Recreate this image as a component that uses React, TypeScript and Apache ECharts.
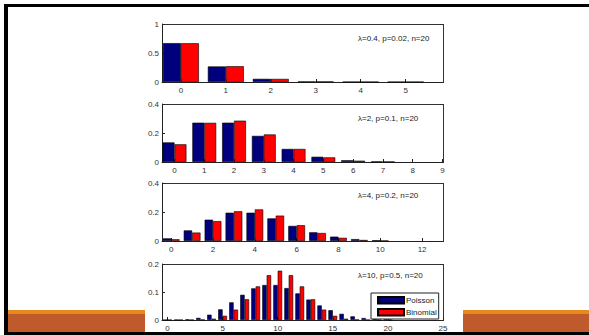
import React, { useEffect, useRef } from "react";
import * as echarts from "echarts";

// Panel 1: lambda=0.4, p=0.02, n=20
const k1 = [0, 1, 2, 3, 4, 5];
const poisson1 = [0.67, 0.268, 0.054, 0.007, 0.0007, 0.00006];
const binomial1 = [0.668, 0.272, 0.053, 0.0065, 0.0006, 0.00005];
const xTicks1 = [0, 1, 2, 3, 4, 5];
const yTicks1 = [0, 0.5, 1];

// Panel 2: lambda=2, p=0.1, n=20
const k2 = [0, 1, 2, 3, 4, 5, 6, 7];
const poisson2 = [0.135, 0.271, 0.271, 0.18, 0.09, 0.036, 0.012, 0.0034];
const binomial2 = [0.122, 0.27, 0.285, 0.19, 0.09, 0.032, 0.009, 0.002];
const xTicks2 = [0, 1, 2, 3, 4, 5, 6, 7, 8, 9];
const yTicks2 = [0, 0.2, 0.4];

// Panel 3: lambda=4, p=0.2, n=20
const k3 = [0, 1, 2, 3, 4, 5, 6, 7, 8, 9, 10];
const poisson3 = [0.018, 0.073, 0.147, 0.195, 0.195, 0.156, 0.104, 0.06, 0.03, 0.013, 0.005];
const binomial3 = [0.012, 0.058, 0.137, 0.205, 0.218, 0.175, 0.109, 0.055, 0.022, 0.007, 0.002];
const xTicks3 = [0, 2, 4, 6, 8, 10, 12];
const yTicks3 = [0, 0.2, 0.4];

// Panel 4: lambda=10, p=0.5, n=20
const k4 = [0, 1, 2, 3, 4, 5, 6, 7, 8, 9, 10, 11, 12, 13, 14, 15, 16, 17, 18, 19, 20];
const poisson4 = [0.00005, 0.0005, 0.0023, 0.0076, 0.019, 0.038, 0.063, 0.09, 0.113, 0.125, 0.125, 0.114, 0.095, 0.073, 0.052, 0.035, 0.022, 0.013, 0.007, 0.0037, 0.0019];
const binomial4 = [0.000001, 0.00002, 0.0002, 0.0011, 0.0046, 0.015, 0.037, 0.074, 0.12, 0.16, 0.176, 0.16, 0.12, 0.074, 0.037, 0.015, 0.0046, 0.0011, 0.0002, 0.00002, 0.000001];
const xTicks4 = [0, 5, 10, 15, 20, 25];
const yTicks4 = [0, 0.1, 0.2];

const annotations = [
  "λ=0.4, p=0.02, n=20",
  "λ=2, p=0.1, n=20",
  "λ=4, p=0.2, n=20",
  "λ=10, p=0.5, n=20",
];
const legendNames = ["Poisson", "Binomial"];

const BLUE = "#00007f";
const RED = "#ff0000";
const FONT = "Liberation Sans, Arial, sans-serif";

const GL = 162;
const GW = 281;
const panelTops = [24, 104, 183, 264];
const panelHeights = [58, 58, 58, 56];

export default function App() {
  const ref = useRef<HTMLDivElement>(null);

  useEffect(() => {
    document.body.style.margin = "0";
    if (!ref.current) return;
    const chart = echarts.init(ref.current, undefined, { renderer: "svg" });

    const panels = [
      { k: k1, p: poisson1, b: binomial1, xt: xTicks1, yt: yTicks1, xmin: -0.42, xmax: 5.83, ann: annotations[0], annY: 38 },
      { k: k2, p: poisson2, b: binomial2, xt: xTicks2, yt: yTicks2, xmin: -0.42, xmax: 9.02, ann: annotations[1], annY: 118 },
      { k: k3, p: poisson3, b: binomial3, xt: xTicks3, yt: yTicks3, xmin: -0.44, xmax: 13, ann: annotations[2], annY: 195 },
      { k: k4, p: poisson4, b: binomial4, xt: xTicks4, yt: yTicks4, xmin: -0.5, xmax: 25, ann: annotations[3], annY: 275 },
    ];

    const grid: any[] = [];
    const xAxis: any[] = [];
    const yAxis: any[] = [];
    const series: any[] = [];
    const title: any[] = [];

    panels.forEach((pn, i) => {
      const ls = () => ({ color: "#222", width: 1 });
      const labelStyle = { color: "#333", fontSize: 8, fontFamily: FONT };
      grid.push({ left: GL, top: panelTops[i], width: GW, height: panelHeights[i] });
      const bw = (0.4 * GW) / (pn.xmax - pn.xmin);
      const ymax = pn.yt[pn.yt.length - 1];
      const yint = pn.yt[1] - pn.yt[0];
      xAxis.push({
        type: "value", gridIndex: i, min: pn.xmin, max: pn.xmax, position: "bottom",
        axisLine: { show: true, onZero: false, lineStyle: ls() },
        axisTick: { show: true, inside: true, length: 3, customValues: pn.xt, lineStyle: ls() },
        axisLabel: { show: true, customValues: pn.xt, margin: 4, ...labelStyle },
        splitLine: { show: false },
      });
      yAxis.push({
        type: "value", gridIndex: i, min: 0, max: ymax, interval: yint, position: "left",
        axisLine: { show: true, onZero: false, lineStyle: ls() },
        axisTick: { show: true, inside: true, length: 3, lineStyle: ls() },
        axisLabel: { show: true, margin: 3, ...labelStyle },
        splitLine: { show: false },
      });
      series.push({
        type: "bar", name: legendNames[0], xAxisIndex: i, yAxisIndex: i,
        data: pn.k.map((k, j) => [k, pn.p[j]]),
        barWidth: bw, barGap: "0%",
        itemStyle: { color: BLUE, borderColor: "#000", borderWidth: 0.6 },
      });
      series.push({
        type: "bar", name: legendNames[1], xAxisIndex: i, yAxisIndex: i,
        data: pn.k.map((k, j) => [k, pn.b[j]]),
        barWidth: bw, barGap: "0%",
        itemStyle: { color: RED, borderColor: "#000", borderWidth: 0.6 },
      });
      title.push({
        text: pn.ann, left: 358, top: pn.annY - 5, padding: 0,
        textStyle: { fontSize: 8, fontWeight: "normal", fontFamily: FONT, color: "#222", lineHeight: 10 },
      });
    });

    chart.setOption({
      animation: false,
      backgroundColor: "transparent",
      title,
      legend: {
        data: legendNames,
        orient: "vertical",
        left: 371, top: 293,
        padding: [3, 2, 2.5, 6],
        itemWidth: 26, itemHeight: 6.5, itemGap: 3.5,
        icon: "rect",
        selectedMode: false,
        backgroundColor: "#fff",
        borderColor: "#222", borderWidth: 1, borderRadius: 0,
        textStyle: { fontSize: 8, fontFamily: FONT, color: "#222", padding: [0, 0, 0, -3] },
      },
      grid,
      xAxis,
      yAxis,
      series,
    });
    return () => chart.dispose();
  }, []);

  const box = (s: React.CSSProperties, key?: string) => <div key={key} style={{ position: "absolute", ...s }} />;

  return (
    <div style={{ position: "relative", width: 589, height: 335, background: "#fff", overflow: "hidden" }}>
      {box({ left: 4, top: 4, width: 585, height: 3, background: "#000" })}
      {box({ left: 4, top: 4, width: 4, height: 331, background: "#000" })}
      {box({ left: 4, top: 331.5, width: 585, height: 4, background: "#000" })}
      {box({ left: 8, top: 310, width: 137, height: 4, background: "#e68a1c" })}
      {box({ left: 8, top: 314, width: 137, height: 17.5, background: "#bf5a2d" })}
      {box({ left: 463, top: 310, width: 126, height: 4, background: "#e68a1c" })}
      {box({ left: 463, top: 314, width: 126, height: 17.5, background: "#bf5a2d" })}
      {panelTops.map((t, i) =>
        box({ left: GL, top: t, width: GW + 1, height: panelHeights[i] + 1, border: "1px solid #333", boxSizing: "border-box" }, "f" + i)
      )}
      <div ref={ref} style={{ position: "absolute", left: 0, top: 0, width: 589, height: 335 }} />
    </div>
  );
}
